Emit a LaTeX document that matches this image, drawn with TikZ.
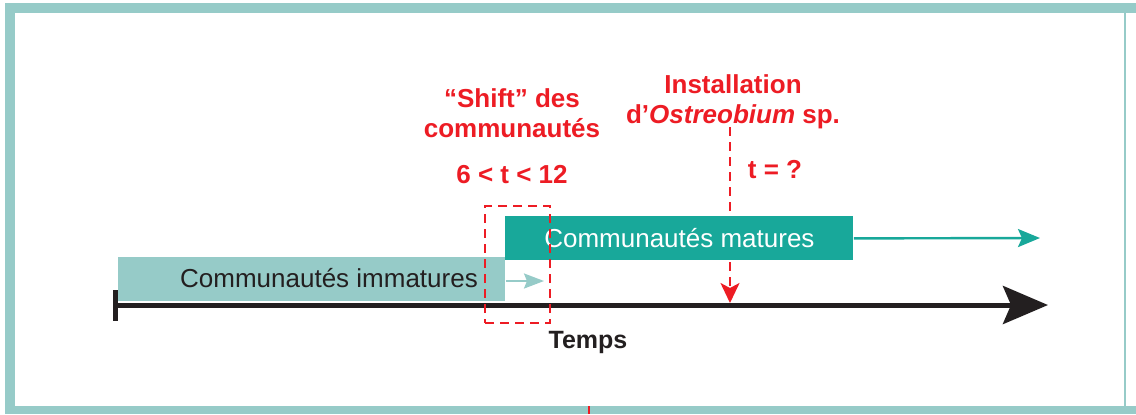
\documentclass[tikz,border=0pt]{standalone}
\usepackage{fontspec}
\setmainfont{Liberation Sans}
\usetikzlibrary{arrows.meta}
\definecolor{tealclair}{RGB}{150,203,200}
\definecolor{tealfonce}{RGB}{24,168,154}
\definecolor{rouge}{RGB}{237,28,36}
\definecolor{noirtxt}{RGB}{35,31,32}
\tikzset{
    boite/.style={rectangle, inner sep=0pt, anchor=north west},
    etiquette/.style={text=rouge, font=\fontsize{13}{15}\selectfont\bfseries, align=center, anchor=base},
    pointille/.style={rouge, line width=1pt, dash pattern=on 4.5pt off 3pt}
}
\begin{document}
\begin{tikzpicture}[x=0.5pt,y=-0.5pt]
        \useasboundingbox (0,0) rectangle (1136,414);
        \fill[white] (0,0) rectangle (1136,414);

        \fill[tealclair] (5,3) rectangle (1136,13);
        \fill[tealclair] (5,3) rectangle (15,414);
        \fill[tealclair] (5,406) rectangle (1136,414);
        \fill[tealclair] (1124,13) rectangle (1126,406);
        \draw[rouge, line width=1pt] (589,406) -- (589,414);

        \coordinate (ostr) at (730,127);
        \coordinate (tinst) at (730,303);
        \draw[pointille, -{Stealth[length=10pt,width=9.5pt,inset=2.5pt]}] (ostr) -- (tinst);

        \node[boite, fill=tealclair, minimum width=193.5pt, minimum height=22pt] (imm) at (118,257) {};
        \node[text=noirtxt, font=\fontsize{13}{15}\selectfont] (immtxt) at (329,278) {Communautés immatures};

        \node[boite, fill=tealfonce, minimum width=174pt, minimum height=22pt, text=white,
              font=\fontsize{13}{15}\selectfont] (mat) at (505,216) {Communautés matures};

        \coordinate (immfin) at (544,281);
        \draw[tealclair, line width=1pt, -{Stealth[length=10pt,width=7.5pt,inset=1.5pt]}] (imm.east |- immfin) -- (immfin);

        \coordinate (matfin) at (1040,238);
        \draw[tealfonce, line width=1.2pt, -{Stealth[length=11pt,width=9pt,inset=2pt]}] (mat.east) -- (matfin);

        \coordinate (t0) at (113,305);
        \coordinate (t1) at (1048,305);
        \draw[noirtxt, line width=2.5pt, {Bar[width=15.5pt]}-{Stealth[length=22.5pt,width=19pt,inset=4pt]}] (t0) -- (t1);

        \node[boite, pointille, draw, minimum width=32.5pt, minimum height=58.5pt] (shift) at (484,205) {};

        \node[etiquette] (shiftlbl) at (512,137) {``Shift'' des\\communautés};
        \node[etiquette] (intervalle) at (512,183) {6 < t < 12};
        \node[etiquette] (instlbl) at (733,123) {Installation\\d'\textit{Ostreobium} sp.};
        \node[etiquette] (tq) at (775,178) {t = ?};

        \node[text=noirtxt, font=\fontsize{12.5}{15}\selectfont\bfseries, anchor=base] (temps) at (588,348) {Temps};

    \end{tikzpicture}
\end{document}
